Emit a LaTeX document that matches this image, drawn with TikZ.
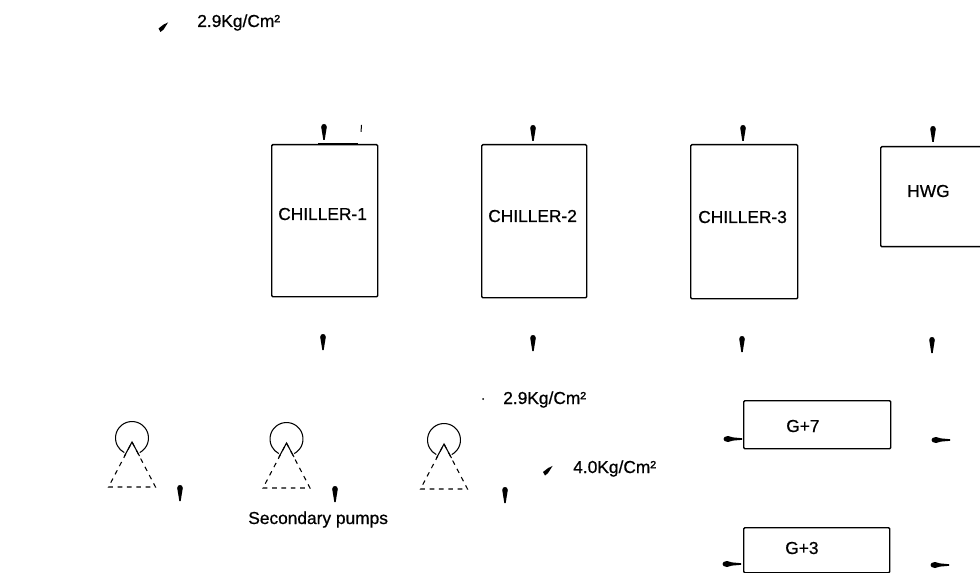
\documentclass[tikz,border=0pt]{standalone}
\usepackage{fontspec}
\setmainfont{Liberation Sans}
\newfontfamily\lblfont[FakeBold=0.7]{Liberation Sans}
\tikzset{
  box/.style={draw=black,line width=1.1pt,rounded corners=0.8pt,inner sep=0pt,anchor=north west},
  lbl/.style={inner sep=0pt,anchor=base west,font=\lblfont\fontsize{13}{15}\selectfont,text=black},
  tri/.style={draw=black,line width=0.8pt,dash pattern=on 3.5pt off 3.5pt},
  circ/.style={draw=black,line width=0.8pt},
}
% vertical marker: pin pointing down, head on top
\newcommand{\vmark}[2]{\fill[black] (#1-2.8,#2-5) .. controls (#1-2.8,#2-9) and (#1+2.8,#2-9) .. (#1+2.8,#2-5) -- (#1+1.8,#2+1) -- (#1+.7,#2+8) -- (#1-.7,#2+8) -- (#1-1.8,#2+1) -- cycle;}
% horizontal marker: head on the left
\newcommand{\hmark}[2]{\fill[black] (#1-5,#2-3) .. controls (#1-11,#2-3) and (#1-11,#2+3) .. (#1-5,#2+3) -- (#1,#2+1.6) -- (#1+9,#2+.8) -- (#1+9,#2-.8) -- (#1,#2-1.6) -- cycle;}
% diagonal marker
\newcommand{\dmark}[2]{\fill[black] (#1-5,#2+1.5) -- (#1-3,#2+5) -- (#1,#2+2.6) -- (#1+4.6,#2-4.6) -- (#1,#2-2.4) -- cycle;}
% pump: apex of the triangle at #1,#2
\newcommand{\pump}[2]{
  \draw[circ] (#1,#2-4) ++(62:16.5) arc[start angle=62,end angle=-242,radius=16.5];
  \draw[tri] (#1,#2) -- (#1+23.5,#2+45) -- (#1-23.5,#2+45) -- cycle;
  \draw[circ] (#1-7.5,#2+14) -- (#1,#2) -- (#1+7.5,#2+14);
}
\begin{document}
\begin{tikzpicture}[x=0.75pt,y=-0.75pt]
\useasboundingbox (0,0) rectangle (980,573);
\fill[white] (0,0) rectangle (980,573);
% boxes
\node[box,minimum width=106*0.75pt,minimum height=152*0.75pt] (ch1) at (271,144) {};
\node[box,minimum width=105*0.75pt,minimum height=153*0.75pt] (ch2) at (481,144) {};
\node[box,minimum width=107*0.75pt,minimum height=154*0.75pt] (ch3) at (690,144) {};
\node[box,minimum width=112*0.75pt,minimum height=100*0.75pt] (hwg) at (880,146) {};
\node[box,minimum width=147*0.75pt,minimum height=48*0.75pt] (g7) at (743,400) {};
\node[box,minimum width=146*0.75pt,minimum height=45*0.75pt] (g3) at (743,527) {};
\draw[line width=1.6pt] (318,144) -- (358,144);
% labels
\node[lbl] (t1) at (278,220) {CHILLER-1};
\node[lbl] (t2) at (488,222) {CHILLER-2};
\node[lbl] (t3) at (698,223) {CHILLER-3};
\node[lbl] (t4) at (907,197) {HWG};
\node[lbl] (t5) at (786,432) {G+7};
\node[lbl] (t6) at (785,554) {G+3};
\node[lbl] (p1) at (197,27) {2.9Kg/Cm²};
\node[lbl] (p2) at (503,404) {2.9Kg/Cm²};
\node[lbl] (p3) at (573,473) {4.0Kg/Cm²};
\node[lbl] (sp) at (248,524) {Secondary pumps};
% pumps
\pump{132}{442}
\pump{286.5}{443}
\pump{444}{444}
% markers
\vmark{324}{132}\vmark{533}{133}\vmark{743}{133}\vmark{933}{134}
\vmark{323}{342}\vmark{533}{343}\vmark{742}{344}\vmark{932}{345}
\vmark{180}{493}\vmark{335}{494}\vmark{505}{495}
\hmark{733}{439}\hmark{732}{564}
\hmark{941}{440}\hmark{940}{565}
\dmark{163.5}{27}\dmark{548}{470.5}
\fill[black] (361,125) -- (362,125) -- (361.5,132) -- (360.5,132) -- cycle;
\fill[black] (483,399) circle (1);
\end{tikzpicture}
\end{document}
